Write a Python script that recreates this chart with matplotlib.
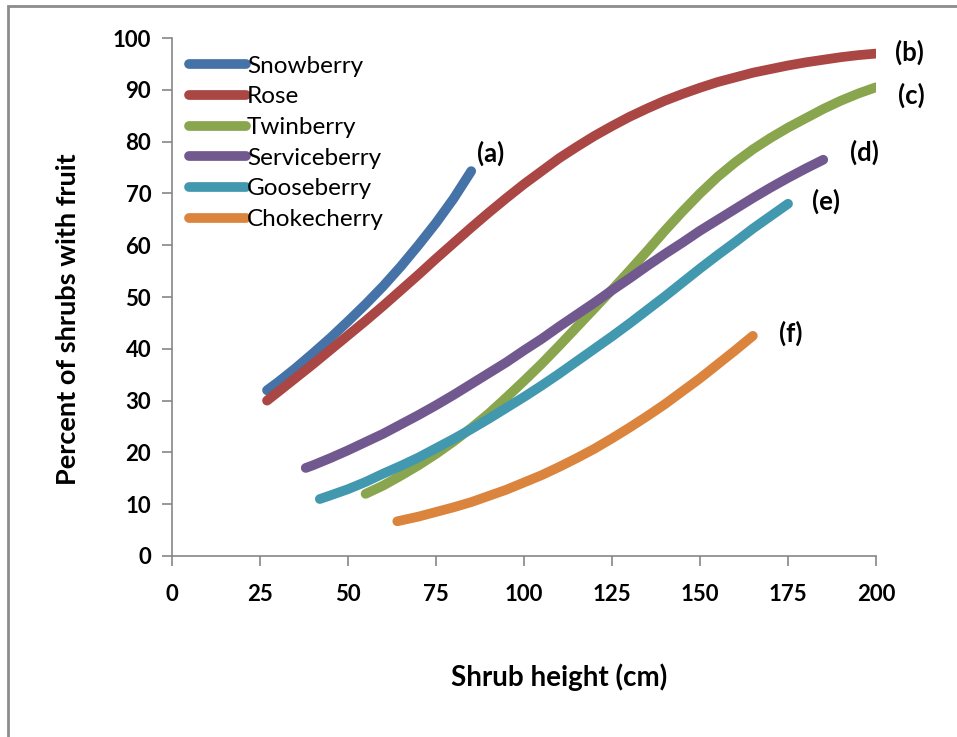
import matplotlib
matplotlib.use('Agg')
import matplotlib.pyplot as plt
from matplotlib.patches import Rectangle

plt.rcParams['font.family'] = ['Lato', 'DejaVu Sans']

# values (shrub height cm, percent with fruit)
snow_x = [27, 30, 35, 40, 45, 50, 55, 60, 65, 70, 75, 80, 85]
snow_y = [32.0, 33.5, 36.2, 39.1, 42.1, 45.3, 48.6, 52.1, 55.9, 60.0, 64.3, 69.0, 74.3]

rose_x = [27, 30, 35, 40, 45, 50, 55, 60, 65, 70, 75, 80, 85, 90, 95, 100,
          105, 110, 115, 120, 125, 130, 135, 140, 145, 150, 155, 160, 165,
          170, 175, 180, 185, 190, 195, 200]
rose_y = [30.0, 31.6, 34.3, 37.0, 39.8, 42.6, 45.4, 48.3, 51.3, 54.3, 57.4,
          60.4, 63.4, 66.3, 69.1, 71.8, 74.3, 76.8, 79.0, 81.1, 83.0, 84.8,
          86.4, 87.9, 89.2, 90.4, 91.5, 92.4, 93.3, 94.0, 94.7, 95.3, 95.8,
          96.3, 96.7, 97.0]

twin_x = [55, 60, 65, 70, 75, 80, 85, 90, 95, 100, 105, 110, 115, 120, 125,
          130, 135, 140, 145, 150, 155, 160, 165, 170, 175, 180, 185, 190,
          195, 200]
twin_y = [12.0, 13.6, 15.5, 17.5, 19.7, 22.1, 24.7, 27.5, 30.6, 33.8, 37.1,
          40.6, 44.2, 47.8, 51.4, 55.1, 58.9, 62.8, 66.5, 70.0, 73.2, 76.0,
          78.5, 80.7, 82.7, 84.5, 86.3, 87.9, 89.3, 90.5]

serv_x = [38, 40, 45, 50, 55, 60, 65, 70, 75, 80, 85, 90, 95, 100, 105, 110,
          115, 120, 125, 130, 135, 140, 145, 150, 155, 160, 165, 170, 175,
          180, 185]
serv_y = [17.0, 17.5, 18.9, 20.4, 22.0, 23.6, 25.4, 27.2, 29.1, 31.1, 33.2,
          35.3, 37.4, 39.7, 41.9, 44.3, 46.6, 48.9, 51.3, 53.6, 56.0, 58.3,
          60.5, 62.8, 64.9, 67.0, 69.1, 71.1, 73.0, 74.8, 76.5]

goose_x = [42, 45, 50, 55, 60, 65, 70, 75, 80, 85, 90, 95, 100, 105, 110,
           115, 120, 125, 130, 135, 140, 145, 150, 155, 160, 165, 170, 175]
goose_y = [11.0, 11.7, 12.9, 14.3, 15.9, 17.4, 19.0, 20.8, 22.6, 24.5, 26.5,
           28.6, 30.7, 32.9, 35.2, 37.6, 40.0, 42.4, 44.9, 47.5, 50.1, 52.8,
           55.5, 58.1, 60.6, 63.2, 65.6, 68.0]

choke_x = [64, 70, 75, 80, 85, 90, 95, 100, 105, 110, 115, 120, 125, 130,
           135, 140, 145, 150, 155, 160, 165]
choke_y = [6.7, 7.6, 8.5, 9.4, 10.4, 11.6, 12.8, 14.2, 15.6, 17.2, 18.9,
           20.7, 22.7, 24.8, 27.0, 29.3, 31.8, 34.3, 37.0, 39.7, 42.5]

names = ['Snowberry', 'Rose', 'Twinberry', 'Serviceberry', 'Gooseberry', 'Chokecherry']
colors = ['#4572A7', '#AA4643', '#89A54E', '#71588F', '#4198AF', '#DB843D']
series = [(snow_x, snow_y), (rose_x, rose_y), (twin_x, twin_y),
          (serv_x, serv_y), (goose_x, goose_y), (choke_x, choke_y)]

tags = ['(a)', '(b)', '(c)', '(d)', '(e)', '(f)']
tag_x = [90.5, 209.4, 209.9, 196.6, 185.8, 175.9]
tag_y = [77.8, 97.3, 89.0, 78.0, 68.5, 43.0]

fig = plt.figure(figsize=(9.57, 7.37), dpi=100)
ax = fig.add_axes([0.1797, 0.2456, 0.9154 - 0.1797, 0.9484 - 0.2456])

for (x, y), name, c in zip(series, names, colors):
    ax.plot(x, y, color=c, lw=7, label=name, solid_capstyle='round',
            solid_joinstyle='round')

for t, tx, ty in zip(tags, tag_x, tag_y):
    ax.text(tx, ty, t, fontsize=18.5, fontweight='bold', ha='center', va='center',
            clip_on=False)

ax.set_xlim(0, 200)
ax.set_ylim(0, 100)
ax.set_xticks(range(0, 201, 25))
ax.set_yticks(range(0, 101, 10))
for s in ['top', 'right']:
    ax.spines[s].set_visible(False)
for s in ['left', 'bottom']:
    ax.spines[s].set_color('#868686')
    ax.spines[s].set_linewidth(1.2)
ax.tick_params(direction='out', length=7, width=1.2, color='#868686',
               labelsize=16, pad=8)
for lab in ax.get_xticklabels() + ax.get_yticklabels():
    lab.set_fontweight('bold')
ax.xaxis.set_tick_params(pad=13)

ax.set_xlabel('Shrub height (cm)', fontsize=20, fontweight='bold')
ax.set_ylabel('Percent of shrubs with fruit', fontsize=19.5, fontweight='bold')
ax.xaxis.set_label_coords(0.55, -0.208)
ax.yaxis.set_label_coords(-0.131, 0.4575)

leg = ax.legend(loc='upper left', bbox_to_anchor=(0.01, 0.985), frameon=False,
                fontsize=17.5, handlelength=2.35, handletextpad=0.05,
                labelspacing=0.40, borderaxespad=0)

fig.patches.append(Rectangle((8 / 957, -0.1), 1.2, 1 - 6 / 737 + 0.1,
                             transform=fig.transFigure, fill=False,
                             edgecolor='#8c8c8c', lw=2))

fig.savefig('out.png', dpi=100)
